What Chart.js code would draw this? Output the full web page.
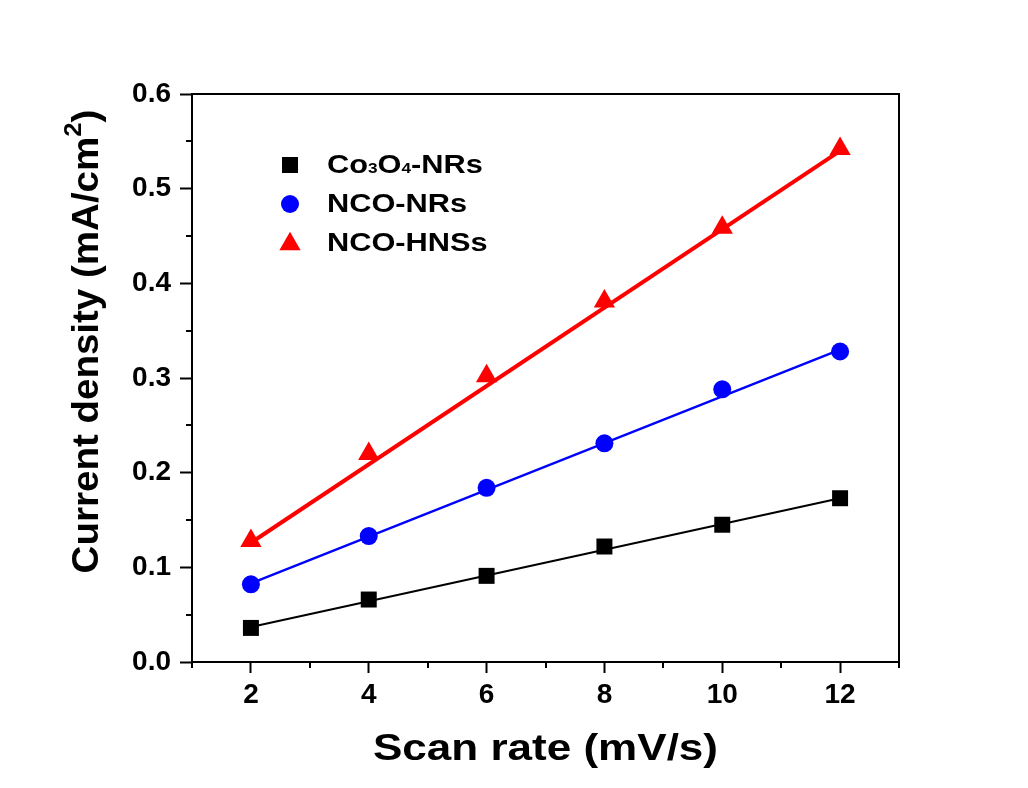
<!DOCTYPE html>
<html>
<head>
<meta charset="utf-8">
<title>Current density vs scan rate</title>
<script src="https://cdn.jsdelivr.net/npm/chart.js@4.4.1/dist/chart.umd.min.js"></script>
<style>
  html, body { margin: 0; padding: 0; background: #ffffff; }
  #wrap { width: 1028px; height: 788px; position: relative; }
</style>
</head>
<body>
<div id="wrap"><canvas id="chart" width="1028" height="788"></canvas></div>
<script>
// Measured points
const scanRates = [2, 4, 6, 8, 10, 12];
const co3o4NRs = [0.036, 0.066, 0.091, 0.122, 0.145, 0.173];
const ncoNRs   = [0.082, 0.133, 0.184, 0.231, 0.288, 0.328];
const ncoHNSs  = [0.128, 0.220, 0.302, 0.381, 0.459, 0.542];

// Linear fit lines (end points)
const fitX       = [2, 12];
const co3o4Fit   = [0.037, 0.173];
const ncoNRsFit  = [0.083, 0.330];
const ncoHNSsFit = [0.126, 0.540];

// Axis ticks
const xTicks      = [2, 4, 6, 8, 10, 12];
const xMinorTicks = [1, 3, 5, 7, 9, 11, 13];
const yTicks      = [0.0, 0.1, 0.2, 0.3, 0.4, 0.5, 0.6];
const yMinorTicks = [0.05, 0.15, 0.25, 0.35, 0.45, 0.55];

// Series names (legend runs: [text, isSubscript])
const seriesNames = ['Co3O4-NRs', 'NCO-NRs', 'NCO-HNSs'];
const legendRuns = [
  [['Co', false], ['3', true], ['O', false], ['4', true], ['-NRs', false]],
  [['NCO-NRs', false]],
  [['NCO-HNSs', false]]
];
const xTitle = 'Scan rate (mV/s)';
const yTitleRuns = [['Current density (mA/cm', false], ['2', true], [')', false]];

const COLORS = ['#000000', '#0000ff', '#ff0000'];
const STYLES = ['rect', 'circle', 'triangle'];
const RADII  = [11.3, 9, 12.3];
const FIT_WIDTHS = [2, 2.3, 4];
const FONT = '"Liberation Sans", Arial, sans-serif';

const toPoints = (xs, ys) => xs.map((x, i) => ({ x: x, y: ys[i] }));

const seriesValues = [co3o4NRs, ncoNRs, ncoHNSs];
const fitValues = [co3o4Fit, ncoNRsFit, ncoHNSsFit];

const datasets = [];
seriesValues.forEach((vals, i) => {
  datasets.push({
    label: seriesNames[i],
    data: toPoints(scanRates, vals),
    showLine: false,
    pointStyle: STYLES[i],
    pointRadius: RADII[i],
    pointHoverRadius: RADII[i],
    pointBackgroundColor: COLORS[i],
    pointBorderColor: COLORS[i],
    pointBorderWidth: 0,
    order: 0
  });
});
fitValues.forEach((vals, i) => {
  datasets.push({
    label: seriesNames[i] + ' fit',
    data: toPoints(fitX, vals),
    showLine: true,
    borderColor: COLORS[i],
    borderWidth: FIT_WIDTHS[i],
    pointRadius: 0,
    pointHoverRadius: 0,
    fill: false,
    order: 1
  });
});

// Frame, minor ticks, axis titles and legend
const decorations = {
  id: 'decorations',
  afterDraw(chart) {
    const ctx = chart.ctx;
    const a = chart.chartArea;
    const xs = chart.scales.x, ys = chart.scales.y;
    ctx.save();
    ctx.strokeStyle = '#000';
    ctx.lineWidth = 2;
    // top and right frame
    ctx.beginPath();
    ctx.moveTo(a.left - 1, a.top);
    ctx.lineTo(a.right, a.top);
    ctx.lineTo(a.right, a.bottom + 1);
    ctx.stroke();
    // minor ticks
    ctx.beginPath();
    xMinorTicks.forEach(v => {
      const px = Math.round(xs.getPixelForValue(v));
      ctx.moveTo(px, a.bottom);
      ctx.lineTo(px, a.bottom + 6);
    });
    yMinorTicks.forEach(v => {
      const py = Math.round(ys.getPixelForValue(v));
      ctx.moveTo(a.left - 6, py);
      ctx.lineTo(a.left, py);
    });
    ctx.stroke();

    ctx.fillStyle = '#000';
    ctx.textBaseline = 'alphabetic';

    // x title
    ctx.save();
    ctx.font = 'bold 37px ' + FONT;
    ctx.translate((a.left + a.right) / 2, a.bottom + 98);
    ctx.scale(1.19, 1);
    ctx.textAlign = 'center';
    ctx.fillText(xTitle, 0, 0);
    ctx.restore();

    // y title (rotated, with superscript)
    ctx.save();
    ctx.translate(98, a.top + 247.5);
    ctx.rotate(-Math.PI / 2);
    ctx.scale(1.07, 1);
    ctx.textAlign = 'left';
    const mainFont = 'bold 36px ' + FONT, supFont = 'bold 24px ' + FONT;
    let total = 0;
    yTitleRuns.forEach(([t, sup]) => {
      ctx.font = sup ? supFont : mainFont;
      total += ctx.measureText(t).width;
    });
    let cx = -total / 2;
    yTitleRuns.forEach(([t, sup]) => {
      ctx.font = sup ? supFont : mainFont;
      ctx.fillText(t, cx, sup ? -17 : 0);
      cx += ctx.measureText(t).width;
    });
    ctx.restore();

    // legend
    const lx = a.left + 98, tx = a.left + 135;
    legendRuns.forEach((runs, i) => {
      const base = a.top + 79 + i * 39;
      ctx.fillStyle = COLORS[i];
      Chart.helpers.drawPoint(ctx, {
        pointStyle: STYLES[i], radius: RADII[i], rotation: 0, borderWidth: 0
      }, lx, base - (STYLES[i] === 'triangle' ? 7 : 8));
      ctx.fillStyle = '#000';
      ctx.save();
      ctx.translate(tx, base);
      ctx.scale(1.23, 1);
      let x = 0;
      runs.forEach(([t, sub]) => {
        ctx.font = sub ? 'bold 14px ' + FONT : 'bold 25px ' + FONT;
        ctx.fillText(t, x, 0);
        x += ctx.measureText(t).width;
      });
      ctx.restore();
    });
    ctx.restore();
  }
};

const tickFont = { family: FONT, size: 28, weight: 'bold' };

new Chart(document.getElementById('chart'), {
  type: 'scatter',
  data: { datasets: datasets },
  options: {
    responsive: false,
    animation: false,
    devicePixelRatio: 1,
    layout: { padding: { left: 0, top: 94, right: 129, bottom: 0 } },
    plugins: {
      legend: { display: false },
      tooltip: { enabled: false },
      title: { display: false }
    },
    scales: {
      x: {
        type: 'linear',
        position: 'bottom',
        min: 1,
        max: 13,
        afterBuildTicks: s => { s.ticks = xTicks.map(v => ({ value: v })); },
        afterFit: s => { s.height = 126; },
        ticks: {
          font: tickFont, color: '#000', padding: 5,
          maxRotation: 0, autoSkip: false,
          callback: v => String(v)
        },
        grid: {
          drawOnChartArea: false, drawTicks: true,
          tickLength: 11, tickWidth: 2, tickColor: '#000'
        },
        border: { display: true, color: '#000', width: 2 },
        title: { display: false }
      },
      y: {
        type: 'linear',
        position: 'left',
        min: 0,
        max: 0.6,
        afterBuildTicks: s => { s.ticks = yTicks.map(v => ({ value: v })); },
        afterFit: s => { s.width = 192; },
        ticks: {
          font: tickFont, color: '#000', padding: 9,
          autoSkip: false,
          callback: v => Number(v).toFixed(1)
        },
        grid: {
          drawOnChartArea: false, drawTicks: true,
          tickLength: 12, tickWidth: 2, tickColor: '#000'
        },
        border: { display: true, color: '#000', width: 2 },
        title: { display: false }
      }
    }
  },
  plugins: [decorations]
});
</script>
</body>
</html>
